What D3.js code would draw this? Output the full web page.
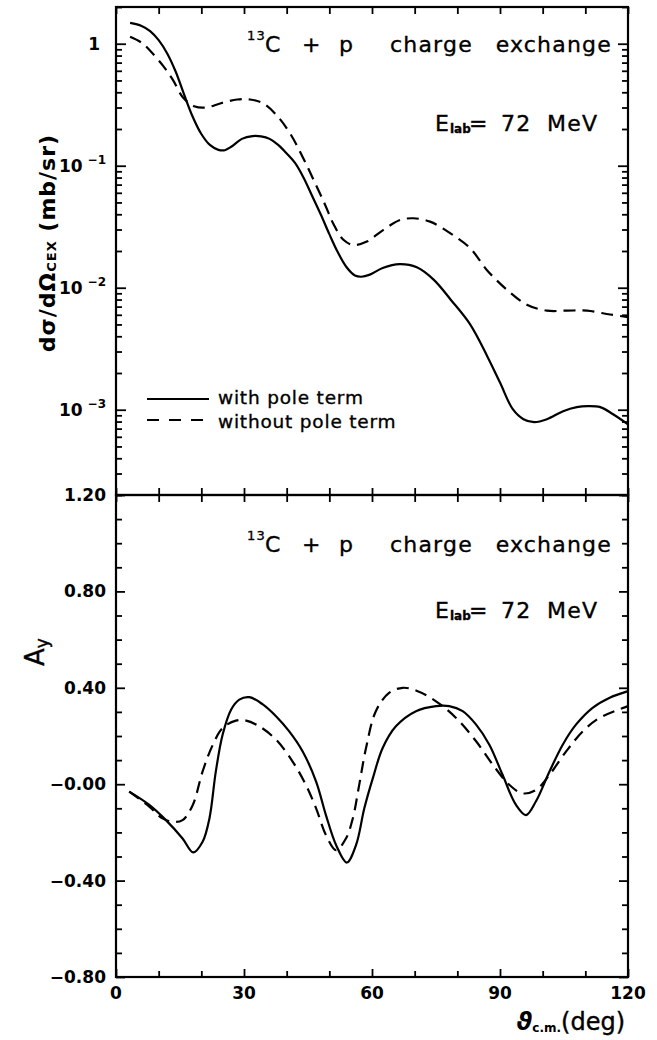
<!DOCTYPE html>
<html>
<head>
<meta charset="utf-8">
<script src="https://cdn.jsdelivr.net/npm/d3@7"></script>
<style>
  body { margin: 0; background: #fff; }
  svg { display: block; background: #fff; }
  text { font-family: "DejaVu Sans", sans-serif; fill: #000; }
</style>
</head>
<body>
<svg id="chart" width="657" height="1040"></svg>
<script>
// upper panel: d(sigma)/d(Omega) in mb/sr vs theta c.m. (deg)
const thetaSigWith = [3.3, 6, 8, 10, 12, 14, 16, 18, 20, 22, 24, 25.5, 27, 29.5, 32, 34, 36, 38, 40, 42,
  44, 46, 48, 50, 52, 54, 56, 57.5, 59.5, 62.5, 66.5, 70.5, 74.5, 78.5, 83, 87, 90, 93, 95.5, 98,
  101, 104.8, 108, 110.5, 113.5, 116.5, 120];
const sigWith = [1.48, 1.40, 1.27, 1.07, 0.832, 0.589, 0.380, 0.251, 0.182, 0.148, 0.135, 0.134, 0.143, 0.166, 0.175,
  0.174, 0.166, 0.148, 0.126, 0.105, 0.0794, 0.0562, 0.0398, 0.0275, 0.0195, 0.0148, 0.0126, 0.0123, 0.0128, 0.0145,
  0.0156, 0.0147, 0.0116, 0.00794, 0.00501, 0.00275, 0.00167, 0.00101, 0.000836, 0.000791, 0.000836, 0.000973,
  0.00105, 0.00107, 0.00105, 0.000918, 0.000759];
const thetaSigWithout = [3.3, 6, 8, 11, 13.4, 15.7, 18.5, 21.3, 24.4, 28.4, 31.4, 34.5, 37.7, 40.8, 43.8, 46.5,
  49, 51, 53.3, 55.6, 58.8, 62.6, 66.6, 69.7, 73.6, 78.3, 83, 86.9, 91.6, 96.3, 101, 105.7, 110.4, 115.8, 120];
const sigWithout = [1.14, 1.02, 0.877, 0.661, 0.501, 0.363, 0.306, 0.301, 0.324, 0.349, 0.349, 0.324, 0.258, 0.184,
  0.117, 0.0741, 0.0479, 0.0331, 0.0247, 0.0224, 0.0239, 0.0297, 0.0359, 0.0371, 0.0348, 0.0280, 0.0211, 0.0140,
  0.00964, 0.00726, 0.00649, 0.00649, 0.00649, 0.00603, 0.00575];

// lower panel: analysing power Ay
const thetaAyWith = [3.1, 7.8, 11.7, 15.6, 18.1, 20.3, 21.9, 23.4, 25, 27, 28.9, 31.3, 34.4, 37.5, 40.6, 43.75,
  46.9, 49.2, 51.6, 54.1, 56.25, 58.2, 60.2, 62.5, 65.6, 70.3, 75, 78.1, 81.25, 84.4, 87.5, 90.6, 93.75, 96.1,
  98.4, 101.6, 104.7, 107.8, 111.7, 115.6, 120];
const ayWith = [-0.031, -0.086, -0.149, -0.225, -0.283, -0.239, -0.142, 0.053, 0.206, 0.31, 0.351, 0.361, 0.331,
  0.282, 0.219, 0.136, 0.011, -0.128, -0.253, -0.325, -0.253, -0.1, 0.025, 0.15, 0.24, 0.303, 0.324, 0.324, 0.303,
  0.247, 0.164, 0.039, -0.086, -0.128, -0.072, 0.053, 0.164, 0.247, 0.317, 0.358, 0.386];
const thetaAyWithout = [3.1, 7.8, 10.9, 13.3, 15.6, 18, 20.3, 22.7, 25, 28.1, 30.5, 33.6, 37.5, 41.4, 44.5, 46.9,
  49.2, 51.6, 53.9, 55.5, 57, 58.6, 60.9, 64, 67.2, 70.3, 75, 79.7, 84.4, 88.3, 92.2, 95.3, 98.4, 101.6, 105.5,
  109.4, 113.3, 120];
const ayWithout = [-0.031, -0.093, -0.142, -0.156, -0.149, -0.086, 0.053, 0.164, 0.233, 0.264, 0.264, 0.24, 0.185,
  0.094, -0.003, -0.1, -0.211, -0.274, -0.225, -0.142, -0.003, 0.15, 0.303, 0.379, 0.4, 0.389, 0.344, 0.275, 0.178,
  0.081, -0.003, -0.038, -0.024, 0.039, 0.136, 0.219, 0.275, 0.324];

// ticks and labels
const xMajor = [0, 30, 60, 90, 120];
const xMinor = [10, 20, 40, 50, 70, 80, 100, 110];
const decades = [1e-3, 1e-2, 1e-1, 1];
const decadeExp = ["−3", "−2", "−1", ""];
const ayMajor = [-0.8, -0.4, 0, 0.4, 0.8, 1.2];
const ayLabels = ["−0.80", "−0.40", "−0.00", "0.40", "0.80", "1.20"];
const legendLabels = ["with pole term", "without pole term"];

const padLeft = 116, padRight = 628, padTop = 7, padMid = 495, padBottom = 977;
const svg = d3.select("#chart");

const x = d3.scaleLinear().domain([0, 120]).range([padLeft, padRight]);
const ySig = d3.scaleLog().domain([2e-4, 2]).range([padMid, padTop]);
const yAy = d3.scaleLinear().domain([-0.8, 1.2]).range([padBottom, padMid]);

function ticks(axisFn, scale, values, size, transform) {
  svg.append("g")
    .attr("transform", transform)
    .call(axisFn(scale).tickValues(values).tickSize(size).tickSizeOuter(0).tickFormat(""))
    .call(g => g.select(".domain").remove())
    .selectAll("line")
    .attr("stroke", "#000")
    .attr("stroke-width", 1.8);
}

// upper panel ticks
const sigMinor = ySig.ticks().filter(v => !decades.some(d => Math.abs(v / d - 1) < 1e-6));
ticks(d3.axisLeft, ySig, sigMinor, -6, `translate(${padLeft},0)`);
ticks(d3.axisLeft, ySig, decades, -10, `translate(${padLeft},0)`);
ticks(d3.axisRight, ySig, sigMinor, -6, `translate(${padRight},0)`);
ticks(d3.axisRight, ySig, decades, -10, `translate(${padRight},0)`);
ticks(d3.axisTop, x, xMinor.concat(xMajor), -7, `translate(0,${padTop})`);
ticks(d3.axisBottom, x, xMinor.concat(xMajor), -7, `translate(0,${padMid})`);

// lower panel ticks
const ayMinor = d3.range(-8, 13).filter(i => i % 4 !== 0).map(i => i / 10);
ticks(d3.axisTop, x, xMinor.concat(xMajor), -7, `translate(0,${padMid})`);
ticks(d3.axisBottom, x, xMinor, -6, `translate(0,${padBottom})`);
ticks(d3.axisBottom, x, xMajor, -8, `translate(0,${padBottom})`);
ticks(d3.axisLeft, yAy, ayMinor, -6, `translate(${padLeft},0)`);
ticks(d3.axisLeft, yAy, ayMajor, -9, `translate(${padLeft},0)`);
ticks(d3.axisRight, yAy, ayMinor, -6, `translate(${padRight},0)`);
ticks(d3.axisRight, yAy, ayMajor, -9, `translate(${padRight},0)`);

// frames
[[padTop, padMid], [padMid, padBottom]].forEach(([y0, y1]) => {
  svg.append("rect")
    .attr("x", padLeft).attr("y", y0)
    .attr("width", padRight - padLeft).attr("height", y1 - y0)
    .attr("fill", "none").attr("stroke", "#000").attr("stroke-width", 2.2);
});

// curves
const lineSig = d3.line().x(d => x(d[0])).y(d => ySig(d[1])).curve(d3.curveCatmullRom.alpha(0.5));
const lineAy = d3.line().x(d => x(d[0])).y(d => yAy(d[1])).curve(d3.curveCatmullRom.alpha(0.5));

function curve(gen, xs, ys, dashed) {
  svg.append("path")
    .datum(d3.zip(xs, ys))
    .attr("d", gen)
    .attr("fill", "none")
    .attr("stroke", "#000")
    .attr("stroke-width", 2.2)
    .attr("stroke-dasharray", dashed ? "12,7" : null);
}
curve(lineSig, thetaSigWith, sigWith, false);
curve(lineSig, thetaSigWithout, sigWithout, true);
curve(lineAy, thetaAyWith, ayWith, false);
curve(lineAy, thetaAyWithout, ayWithout, true);

// tick labels
const tickFont = g => g.attr("font-size", 17).attr("font-weight", "bold");

decades.forEach((d, i) => {
  const t = svg.append("text")
    .attr("x", decadeExp[i] ? 106 : 100)
    .attr("y", ySig(d) + 6)
    .attr("text-anchor", "end")
    .call(tickFont);
  if (decadeExp[i]) {
    t.append("tspan").text("10");
    t.append("tspan").attr("dx", 5).attr("dy", -8).attr("font-size", 12).text(decadeExp[i]);
  } else {
    t.text("1");
  }
});

ayMajor.forEach((v, i) => {
  svg.append("text")
    .attr("x", 106)
    .attr("y", yAy(v) + 6)
    .attr("text-anchor", "end")
    .call(tickFont)
    .text(ayLabels[i]);
});

xMajor.forEach(v => {
  svg.append("text")
    .attr("x", x(v))
    .attr("y", 999)
    .attr("text-anchor", "middle")
    .call(tickFont)
    .text(v);
});

// annotations
function note(txt, xx, yy, size, anchor) {
  return svg.append("text")
    .attr("x", xx).attr("y", yy)
    .attr("font-size", size)
    .attr("text-anchor", anchor || "start")
    .attr("letter-spacing", 1.2)
    .attr("stroke", "#000").attr("stroke-width", 0.35)
    .text(txt);
}

[[52, 131], [552, 618]].forEach(([yReac, yE]) => {
  note("13", 247, yReac - 12, 13);
  note("C", 265, yReac, 22);
  note("+", 302, yReac, 22);
  note("p", 339, yReac, 22);
  note("charge", 390, yReac, 22);
  note("exchange", 612, yReac, 22, "end");
  note("E", 435, yE, 22);
  note("lab", 450, yE + 2, 12).attr("font-weight", "bold").attr("letter-spacing", 0);
  note("=", 469, yE, 22);
  note("72", 501, yE, 22);
  note("MeV", 547, yE, 22);
});

// legend
[false, true].forEach((dashed, i) => {
  const ly = 399 + i * 21;
  svg.append("line")
    .attr("x1", 147).attr("x2", 209)
    .attr("y1", ly).attr("y2", ly)
    .attr("stroke", "#000").attr("stroke-width", 2.2)
    .attr("stroke-dasharray", dashed ? "12,10" : null);
  note(legendLabels[i], 218, ly + 5 + i * 3, 18.5).attr("letter-spacing", 0.8);
});

// axis titles
const yTitle = svg.append("text")
  .attr("transform", "translate(55,243) rotate(-90)")
  .attr("text-anchor", "middle")
  .attr("font-size", 22)
  .attr("letter-spacing", 1)
  .attr("font-weight", "bold");
yTitle.append("tspan").text("dσ/dΩ");
yTitle.append("tspan").attr("font-size", 13).attr("dy", 1).text("CEX");
yTitle.append("tspan").attr("dy", -1).text(" (mb/sr)");

const ayTitle = svg.append("text")
  .attr("transform", "translate(44,652) rotate(-90)")
  .attr("text-anchor", "middle")
  .attr("font-size", 26)
  .attr("stroke", "#000").attr("stroke-width", 0.4);
ayTitle.append("tspan").text("A");
ayTitle.append("tspan").attr("font-size", 17).attr("dy", 4).text("y");

const xTitle = svg.append("text")
  .attr("x", 625).attr("y", 1030)
  .attr("text-anchor", "end")
  .attr("font-size", 24);
xTitle.append("tspan").attr("font-weight", "bold").attr("font-style", "italic").text("ϑ");
xTitle.append("tspan").attr("font-size", 12).attr("font-weight", "bold").attr("dy", 2).text("c.m.");
xTitle.append("tspan").attr("dy", -2).attr("stroke", "#000").attr("stroke-width", 0.4).text("(deg)");
</script>
</body>
</html>
